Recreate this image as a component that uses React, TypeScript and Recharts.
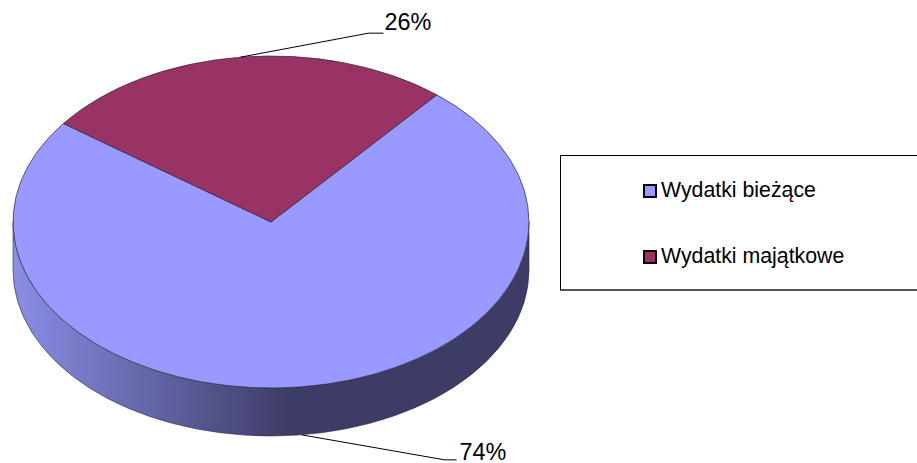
import React from "react";
import { Legend, Pie, PieChart } from "recharts";

const categories = ["Wydatki bieżące", "Wydatki majątkowe"];
const shares = [74, 26];
const sliceColors = ["#9999FF", "#993366"];

const data = categories.map((name, i) => ({ name, value: shares[i], fill: sliceColors[i] }));

const CX = 271;
const CY = 222;
const RX = 258;
const RY = 166;
const DEPTH = 48;

const pt = (a: number, dy = 0) => {
	const r = (a * Math.PI) / 180;
	return `${CX + RX * Math.cos(r)} ${CY + dy - RY * Math.sin(r)}`;
};

// elliptical slice, angles still come from the Pie
function TiltedSlice(props: any) {
	const { startAngle, endAngle, fill } = props;
	const large = startAngle - endAngle > 180 ? 1 : 0;
	const a0 = Math.min(startAngle, 0);
	const a1 = Math.max(endAngle, -180);
	return (
		<g>
			{a0 > a1 && (
				<path
					d={`M${pt(a0)} A${RX} ${RY} 0 0 1 ${pt(a1)} L${pt(a1, DEPTH)} A${RX} ${RY} 0 0 0 ${pt(a0, DEPTH)} Z`}
					fill="url(#wall)"
					stroke="#2a2a44"
					strokeWidth={0.6}
				/>
			)}
			<path
				d={`M${CX} ${CY} L${pt(startAngle)} A${RX} ${RY} 0 ${large} 1 ${pt(endAngle)} Z`}
				fill={fill}
				stroke="#2a2a3a"
				strokeWidth={0.7}
			/>
		</g>
	);
}

// leader line + percent text, placed from the slice mid angle
function SliceLabel(props: any) {
	const { midAngle, value } = props;
	const r = (midAngle * Math.PI) / 180;
	const x = CX + RX * Math.cos(r);
	const lower = Math.sin(r) < 0;
	const y = CY - RY * Math.sin(r) + (lower ? DEPTH : 0);
	const ex = lower ? x + 143 : x + 128;
	const ey = lower ? y + 25 : y - 24;
	return (
		<g>
			<polyline
				points={`${x},${y} ${ex},${ey} ${ex + (lower ? 12 : 15)},${ey}`}
				fill="none"
				stroke="#000"
				strokeWidth={1}
			/>
			<text
				x={ex + (lower ? 15 : 16)}
				y={ey}
				dy={lower ? 0 : -3}
				fontFamily="Liberation Sans"
				fontSize={23.4}
				fill="#000"
			>
				{value}%
			</text>
		</g>
	);
}

function LegendBox({ payload }: any) {
	return (
		<div
			style={{
				boxSizing: "border-box",
				width: 370,
				height: 136,
				border: "1px solid #000",
				borderBottom: "2px solid #555",
				background: "#fff",
				fontFamily: "Liberation Sans",
				fontSize: 21.3,
				color: "#000",
				position: "relative",
			}}
		>
			{(payload || []).map((p: any, i: number) => (
				<div
					key={p.value}
					style={{ position: "absolute", left: 82, top: 22 + i * 66, display: "flex", alignItems: "center", whiteSpace: "nowrap" }}
				>
					<span
						style={{
							boxSizing: "border-box",
							width: 14,
							height: 14,
							border: "2px solid #000",
							background: p.color,
							marginRight: 4,
						}}
					/>
					{p.value}
				</div>
			))}
		</div>
	);
}

export default function App() {
	return (
		<div style={{ position: "absolute", left: 0, top: 0, width: 917, height: 463, overflow: "hidden", background: "#fff" }}>
			<PieChart width={917} height={463} margin={{ top: 0, right: 0, bottom: 0, left: 0 }}>
				<defs>
					<linearGradient id="wall" gradientUnits="userSpaceOnUse" x1={13} y1={0} x2={290} y2={0}>
						<stop offset="0%" stopColor="#8A8EE6" />
						<stop offset="100%" stopColor="#3D3C66" />
					</linearGradient>
				</defs>
				<Pie
					data={data}
					dataKey="value"
					nameKey="name"
					cx={CX}
					cy={CY}
					innerRadius={0}
					outerRadius={RX}
					startAngle={50}
					endAngle={-310}
					stroke="none"
					shape={TiltedSlice}
					label={SliceLabel}
					labelLine={false}
					isAnimationActive={false}
				/>
				<Legend
					layout="vertical"
					align="right"
					verticalAlign="top"
					content={LegendBox}
					wrapperStyle={{ left: 560, top: 155, right: "auto", width: 370 }}
				/>
			</PieChart>
		</div>
	);
}
